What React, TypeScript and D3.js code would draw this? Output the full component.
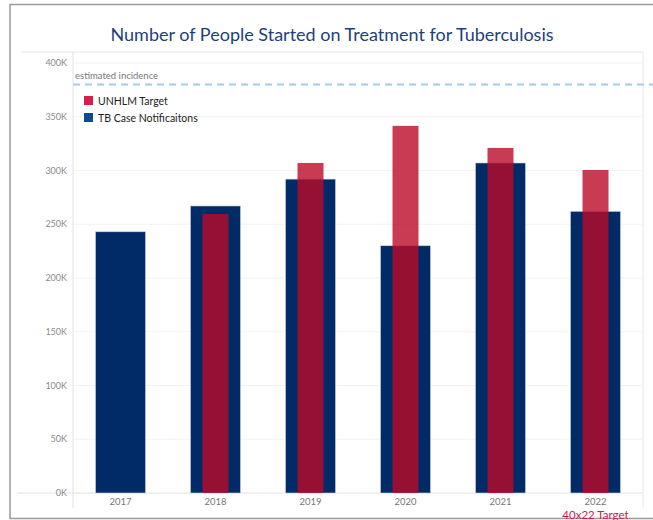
import React from "react";
import * as d3 from "d3";

const years = ["2017", "2018", "2019", "2020", "2021", "2022"];
const caseNotifications = [243000, 267000, 292000, 230000, 307000, 262000];
const unhlmTarget: (number | null)[] = [null, 259500, 307000, 341500, 321000, 300500];
const yTicks = [0, 50000, 100000, 150000, 200000, 250000, 300000, 350000, 400000];
const estimatedIncidence = 380000;

const W = 653;
const H = 520;
const plot = { left: 73, right: 643, top: 52, bottom: 493 };

const NAVY = "#002b66";
const RED = "#bc0a28";
const FONT = "Lato, 'Open Sans', sans-serif";

export default function App() {
  const x = d3
    .scaleBand<string>()
    .domain(years)
    .range([plot.left, plot.right])
    .paddingInner(45 / 95)
    .paddingOuter(45 / 190);
  const y = d3.scaleLinear().domain([0, 400000]).range([493, 63]);
  const fmt = (v: number) => `${v / 1000}K`;
  const redW = 26;

  return (
    <svg
      width={W}
      height={H}
      style={{ position: "absolute", left: 0, top: 0, background: "#fff" }}
      fontFamily={FONT}
    >
      {/* outer frame */}
      <rect x={10} y={4.5} width={660} height={514} fill="none" stroke="#9a9a9a" strokeWidth={1.5} />

      <text
        x={332}
        y={41}
        textAnchor="middle"
        fontSize={18}
        fill="#1f3f7a"
        fontFamily={FONT}
      >
        Number of People Started on Treatment for Tuberculosis
      </text>

      {/* plot frame */}
      <line x1={21} x2={plot.right} y1={plot.top} y2={plot.top} stroke="#e6e6e6" />
      <line x1={plot.right} x2={plot.right} y1={plot.top} y2={508} stroke="#e6e6e6" />

      {/* gridlines */}
      {yTicks.slice(1).map((t) => (
        <line key={t} x1={plot.left} x2={plot.right} y1={y(t)} y2={y(t)} stroke="#f3f3f3" />
      ))}
      <line x1={plot.left} x2={plot.left} y1={plot.top} y2={508} stroke="#e2e2e2" />
      <line x1={17} x2={plot.right} y1={y(0)} y2={y(0)} stroke="#e2e2e2" />

      {/* y tick labels */}
      {yTicks.map((t) => (
        <text
          key={t}
          x={67}
          y={y(t)}
          dy="0.35em"
          textAnchor="end"
          fontSize={9}
          fill="#8a8a8a"
        >
          {fmt(t)}
        </text>
      ))}

      {/* estimated incidence reference line */}
      <line
        x1={plot.left}
        x2={W}
        y1={y(estimatedIncidence)}
        y2={y(estimatedIncidence)}
        stroke="#a9c8ec"
        strokeWidth={2}
        strokeDasharray="7,5"
      />
      <text x={75} y={y(estimatedIncidence) - 6} fontSize={9.5} fill="#777">
        estimated incidence
      </text>

      {/* case notification bars */}
      {years.map((yr, i) => (
        <rect
          key={yr}
          x={x(yr)!}
          y={y(caseNotifications[i])}
          width={x.bandwidth()}
          height={y(0) - y(caseNotifications[i])}
          fill={NAVY}
          stroke="#c9d4e3"
          strokeWidth={0.6}
        />
      ))}

      {/* target bars */}
      {years.map((yr, i) => {
        const v = unhlmTarget[i];
        if (v == null) return null;
        const cx = x(yr)! + x.bandwidth() / 2;
        return (
          <rect
            key={yr}
            x={cx - redW / 2}
            y={y(v)}
            width={redW}
            height={y(0) - y(v)}
            fill={RED}
            fillOpacity={0.8}
          />
        );
      })}

      {/* x labels */}
      {years.map((yr) => (
        <text
          key={yr}
          x={x(yr)! + x.bandwidth() / 2}
          y={505}
          textAnchor="middle"
          fontSize={9.5}
          fill="#777"
        >
          {yr}
        </text>
      ))}
      <text
        x={x("2022")! + x.bandwidth() / 2}
        y={518.5}
        textAnchor="middle"
        fontSize={11.5}
        fill="#d0174a"
      >
        40x22 Target
      </text>

      {/* legend */}
      <rect x={84} y={96} width={9} height={9} fill="#d81e4a" />
      <text x={98} y={101} dy="0.35em" fontSize={10.5} fill="#222">
        UNHLM Target
      </text>
      <rect x={84} y={113} width={9} height={9} fill="#0d4a8f" />
      <text x={98} y={118} dy="0.35em" fontSize={10.5} fill="#222">
        TB Case Notificaitons
      </text>
    </svg>
  );
}
